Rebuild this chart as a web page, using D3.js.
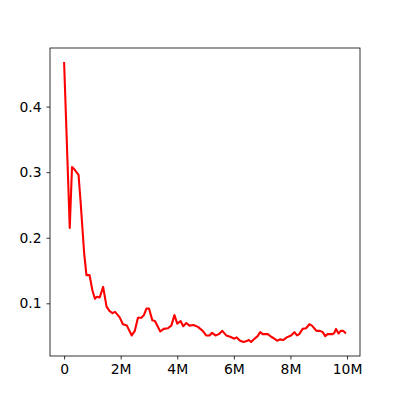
<!DOCTYPE html>
<html><head><meta charset="utf-8">
<script src="https://cdn.jsdelivr.net/npm/d3@7"></script>
<style>body{margin:0;background:#fff}svg text{font-family:"DejaVu Sans";}</style>
</head><body>
<script>
const steps = [0,0.2,0.28,0.35,0.51,0.58,0.71,0.79,0.90,1.00,1.09,1.16,1.26,1.38,1.50,1.61,1.71,1.80,1.96,2.08,2.22,2.39,2.50,2.61,2.73,2.82,2.91,3.00,3.12,3.21,3.40,3.52,3.67,3.79,3.90,4.00,4.12,4.21,4.32,4.43,4.57,4.73,4.90,5.02,5.14,5.23,5.35,5.47,5.59,5.73,5.87,6.02,6.10,6.22,6.34,6.43,6.53,6.61,6.73,6.84,6.93,7.02,7.20,7.32,7.43,7.53,7.63,7.75,7.87,8.02,8.14,8.23,8.31,8.43,8.55,8.67,8.76,8.84,8.92,9.04,9.14,9.23,9.31,9.49,9.55,9.61,9.70,9.78,9.86,9.96];
const values = [0.468,0.215,0.308,0.305,0.296,0.257,0.176,0.143,0.143,0.120,0.107,0.110,0.109,0.125,0.095,0.088,0.085,0.087,0.079,0.068,0.066,0.051,0.058,0.078,0.078,0.082,0.092,0.092,0.074,0.073,0.057,0.061,0.062,0.066,0.082,0.069,0.073,0.065,0.070,0.066,0.067,0.064,0.058,0.051,0.051,0.055,0.051,0.053,0.058,0.051,0.049,0.046,0.048,0.043,0.041,0.042,0.044,0.041,0.046,0.050,0.056,0.053,0.053,0.049,0.046,0.043,0.045,0.044,0.048,0.051,0.056,0.051,0.053,0.061,0.062,0.068,0.066,0.062,0.058,0.058,0.056,0.050,0.053,0.053,0.055,0.061,0.054,0.058,0.058,0.054];
const xTicks = [0,2e6,4e6,6e6,8e6,10e6];
const xTickLabels = ["0","2M","4M","6M","8M","10M"];
const yTicks = [0.1,0.2,0.3,0.4];
const yTickLabels = ["0.1","0.2","0.3","0.4"];

const data = steps.map((s,i)=>({x:s*1e6,y:values[i]}));
const W=400,H=400, L=50,R=360,T=48,B=356;
const svg = d3.select("body").append("svg").attr("width",W).attr("height",H);
const xmin=d3.min(data,d=>d.x), xmax=d3.max(data,d=>d.x);
const ymin=d3.min(data,d=>d.y), ymax=d3.max(data,d=>d.y);
const xm=(xmax-xmin)*0.05, ym=(ymax-ymin)*0.05;
const x=d3.scaleLinear().domain([xmin-xm,xmax+xm]).range([L,R]);
const y=d3.scaleLinear().domain([ymin-ym,ymax+ym]).range([B,T]);

svg.append("path").datum(data)
  .attr("fill","none").attr("stroke","#ff0000").attr("stroke-width",2.08)
  .attr("stroke-linejoin","round").attr("stroke-linecap","butt")
  .attr("d",d3.line().x(d=>x(d.x)).y(d=>y(d.y)));

const fs="13.9px";
const xa=svg.append("g").attr("transform",`translate(0,${B})`)
  .call(d3.axisBottom(x).tickValues(xTicks).tickFormat((d,i)=>xTickLabels[i]).tickSize(3.5).tickPadding(4.9));
const ya=svg.append("g").attr("transform",`translate(${L},0)`)
  .call(d3.axisLeft(y).tickValues(yTicks).tickFormat((d,i)=>yTickLabels[i]).tickSize(3.5).tickPadding(4.9));
[xa,ya].forEach(a=>{
  a.select(".domain").remove();
  a.selectAll("line").attr("stroke","#000").attr("stroke-width",0.8);
  a.selectAll("text").attr("fill","#000").style("font-size",fs).style("font-family","DejaVu Sans");
});
svg.append("rect").attr("x",L).attr("y",T).attr("width",R-L).attr("height",B-T)
  .attr("fill","none").attr("stroke","#000").attr("stroke-width",0.8);
</script>
</body></html>
